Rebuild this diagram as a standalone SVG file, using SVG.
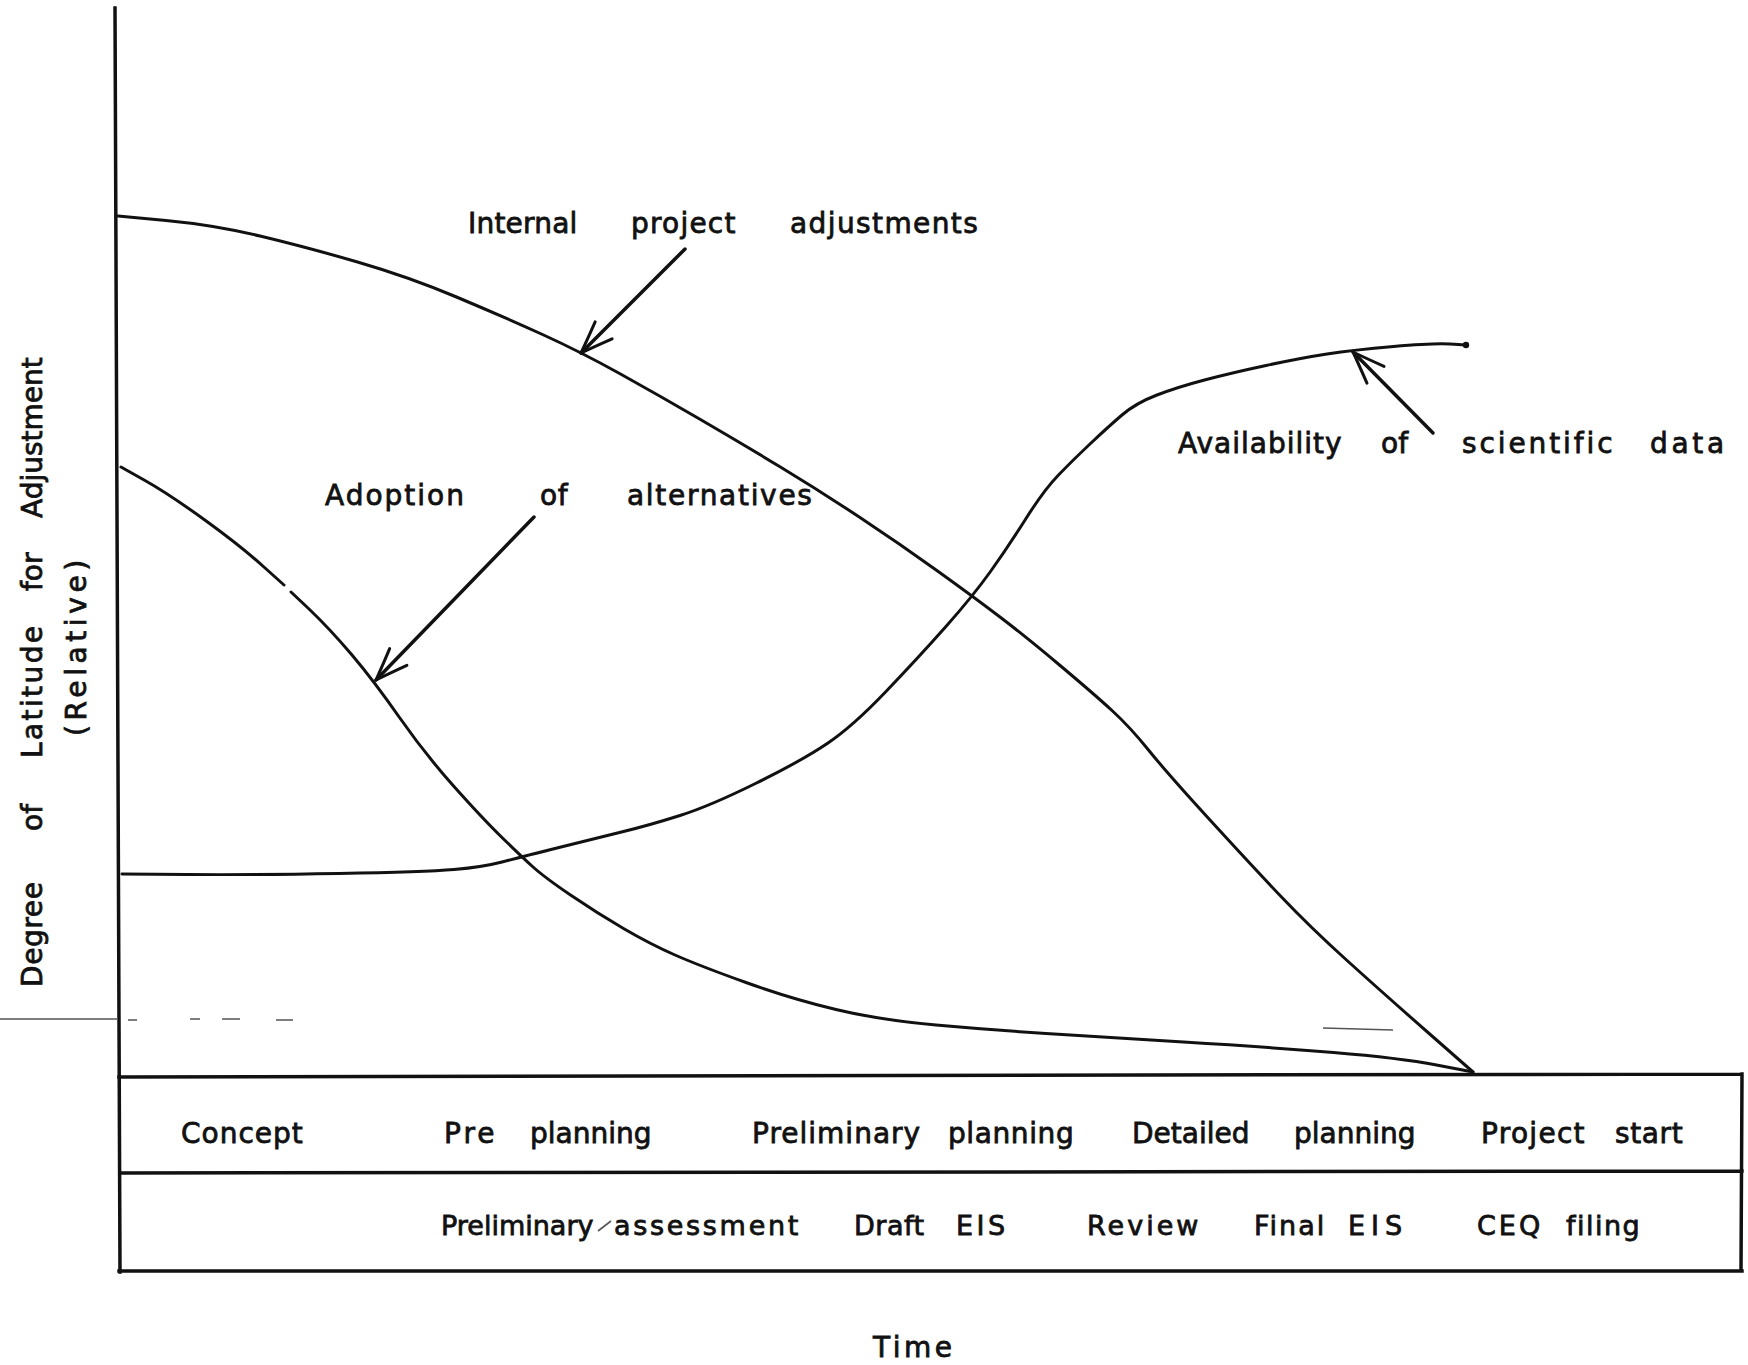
<svg xmlns="http://www.w3.org/2000/svg" width="1748" height="1365" viewBox="0 0 1748 1365">
<style>
.t{font-family:"DejaVu Sans","Liberation Sans",sans-serif;font-size:28px;fill:#111;stroke:#111;stroke-width:0.8px}
.r2{font-size:27px}
.curve{fill:none;stroke:#111;stroke-width:3;stroke-linecap:round;stroke-linejoin:round}
.frame{fill:none;stroke:#111;stroke-width:3.5;stroke-linecap:square}
.arrow{fill:none;stroke:#111;stroke-width:3.5;stroke-linecap:round;marker-end:url(#head)}
.stray{fill:none;stroke:#555;stroke-width:1.6}
</style>
<defs>
<marker id="head" markerUnits="userSpaceOnUse" viewBox="-36 -16 40 32" refX="0" refY="0" markerWidth="40" markerHeight="32" orient="auto" overflow="visible">
<path d="M-32,-12 Q-14,-5 0,0 Q-14,5 -32,12" fill="none" stroke="#111" stroke-width="3" stroke-linecap="round" stroke-linejoin="round"/>
</marker>
</defs>
<rect width="1748" height="1365" fill="#fff"/>

<g id="axes">
<line class="frame" x1="115" y1="8" x2="120" y2="1272"/>
</g>

<g id="phase-table">
<path class="frame" d="M119,1077 L1742,1074 M120,1173 L1742,1171 M119,1271 L1742,1271 M1742,1074 L1741,1271"/>
</g>

<g id="stray-marks">
<path class="stray" d="M0,1019 L118,1019"/>
<path class="stray" d="M128,1020 L137,1020 M190,1019 L200,1019 M222,1019 L240,1019 M276,1020 L293,1020"/>
<path class="stray" d="M1323,1028 L1393,1030"/>
<path class="stray" d="M598,1231 L611,1221"/>
</g>

<g id="curves">
<path id="curve-internal" class="curve" d="M118,216 L166,220.5 Q214,225 260,236 Q306,247 357.5,262 Q409,277 456.5,297 Q504,317 542.5,334.5 Q581,352 620.5,374 Q660,396 700,419.25 Q740,442.5 780,466.75 Q820,491 860,517.5 Q900,544 936.5,570.25 Q973,596.5 999,616.25 Q1025,636 1059.5,665 Q1094,694 1112,710.5 Q1130,727 1148.5,750 Q1167,773 1210,820 Q1253,867 1281.5,897 Q1310,927 1346.5,960 Q1383,993 1428,1032.5 L1473,1072"/>
<path id="curve-data" class="curve" d="M122,874 L187.5,874.5 Q253,875 339,873.5 Q425,872 454,869.5 Q483,867 502,862 Q521,857 559,847.5 Q597,838 623.5,831.5 Q650,825 680,815.5 Q710,806 756.5,783 Q803,760 828,743 Q853,726 885.5,692 Q918,658 945.5,627 Q973,596 990.5,571.5 Q1008,547 1026,518.5 Q1044,490 1058.5,475 Q1073,460 1090.5,443.5 Q1108,427 1122,415 Q1136,403 1157,395 Q1178,387 1204.5,380 Q1231,373 1266,365.5 Q1301,358 1327,354 Q1353,350 1393.5,346.5 Q1434,343 1450,344 L1466,345"/>
<circle cx="1466" cy="345" r="3.2" fill="#111"/>
<path id="curve-alternatives-a" class="curve" d="M121,467 L145,480.5 Q169,494 205.5,520.5 Q242,547 264.5,567.5 L284,585"/>
<path id="curve-alternatives-b" class="curve" d="M291,592 L308.5,608.5 Q330,629 352,655 Q374,681 399.5,717.5 Q425,754 454,786.5 Q483,819 502,837.5 Q521,856 532.5,866.5 Q544,877 570.5,895 Q597,913 623.5,928.5 Q650,944 675,955 Q700,966 746,982.5 Q792,999 836,1009.5 Q880,1020 936,1025 Q992,1030 1046,1033.5 Q1100,1037 1183.5,1042 Q1267,1047 1333.5,1052.5 Q1400,1058 1436.5,1065 L1473,1072"/>
</g>

<g id="connectors">
<line class="arrow" x1="685" y1="249" x2="581" y2="353"/>
<line class="arrow" x1="534" y1="517" x2="376" y2="680"/>
<line class="arrow" x1="1433" y1="433" x2="1353" y2="352"/>
</g>

<g id="label-internal">
<text class="t" y="233"><tspan x="468" style="letter-spacing:0.2px">Internal</tspan> <tspan x="631" style="letter-spacing:1.2px">project</tspan> <tspan x="790" style="letter-spacing:1.4px">adjustments</tspan></text>
</g>
<g id="label-alternatives">
<text class="t" y="505"><tspan x="325" style="letter-spacing:2px">Adoption</tspan> <tspan x="540" style="letter-spacing:0.5px">of</tspan> <tspan x="627" style="letter-spacing:1.7px">alternatives</tspan></text>
</g>
<g id="label-data">
<text class="t" y="453"><tspan x="1178" style="letter-spacing:1px">Availability</tspan> <tspan x="1381">of</tspan> <tspan x="1462" style="letter-spacing:2.9px">scientific</tspan> <tspan x="1650" style="letter-spacing:3.7px">data</tspan></text>
</g>

<g id="row-planning">
<text class="t" x="181" y="1143" style="letter-spacing:1px">Concept</text>
<text class="t" y="1143"><tspan x="444" style="letter-spacing:3px">Pre</tspan> <tspan x="530">planning</tspan></text>
<text class="t" y="1143"><tspan x="752" style="letter-spacing:1px">Preliminary</tspan> <tspan x="948" style="letter-spacing:0.6px">planning</tspan></text>
<text class="t" y="1143"><tspan x="1132">Detailed</tspan> <tspan x="1294">planning</tspan></text>
<text class="t" y="1143"><tspan x="1481" style="letter-spacing:1.3px">Project</tspan> <tspan x="1615" style="letter-spacing:0.6px">start</tspan></text>
</g>

<g id="row-eis">
<text class="t r2" y="1235"><tspan x="441">Preliminary</tspan> <tspan x="614" style="letter-spacing:2.7px">assessment</tspan></text>
<text class="t r2" y="1235"><tspan x="854" style="letter-spacing:0.5px">Draft</tspan> <tspan x="956" style="letter-spacing:3.5px">EIS</tspan></text>
<text class="t r2" x="1087" y="1235" style="letter-spacing:3px">Review</text>
<text class="t r2" y="1235"><tspan x="1254" style="letter-spacing:2px">Final</tspan> <tspan x="1348" style="letter-spacing:6px">EIS</tspan></text>
<text class="t r2" y="1235"><tspan x="1477" style="letter-spacing:3px">CEQ</tspan> <tspan x="1566" style="letter-spacing:1.5px">filing</tspan></text>
</g>

<g id="axis-labels">
<text class="t" x="873" y="1357" style="letter-spacing:3.5px">Time</text>
<text class="t" transform="translate(42,987) rotate(-90)"><tspan x="0" style="letter-spacing:0.6px">Degree</tspan> <tspan x="156">of</tspan> <tspan x="229" style="letter-spacing:2.4px">Latitude</tspan> <tspan x="396">for</tspan> <tspan x="469">Adjustment</tspan></text>
<text class="t" transform="translate(86,736) rotate(-90)" style="letter-spacing:4.6px">(Relative)</text>
</g>
</svg>
